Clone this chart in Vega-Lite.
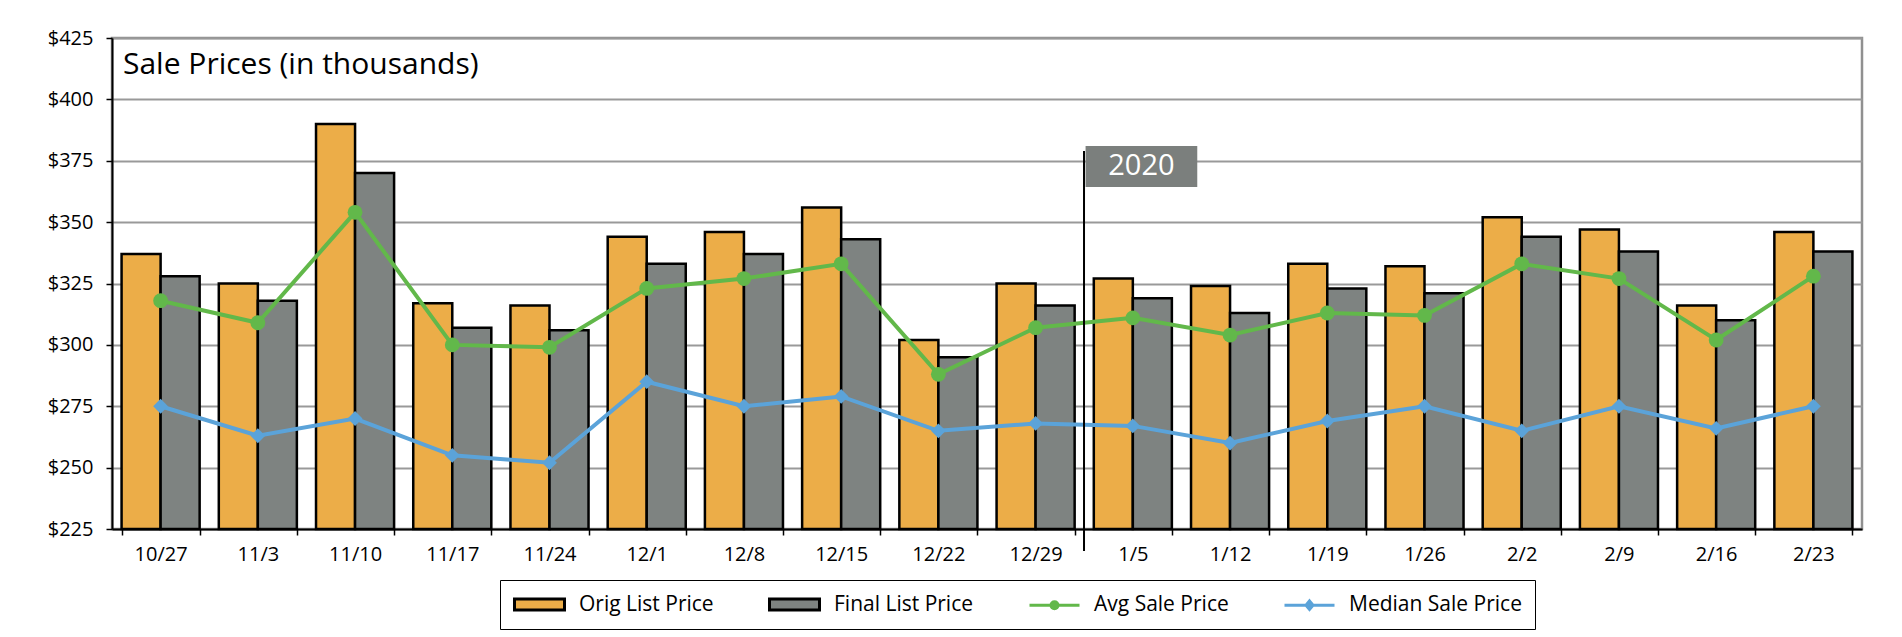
{
  "$schema": "https://vega.github.io/schema/vega-lite/v6.json",
  "width": 1750,
  "height": 491,
  "autosize": {"type": "none"},
  "padding": {"left": 112, "top": 38, "right": 40, "bottom": 108},
  "background": "white",
  "title": {
    "text": "Sale Prices (in thousands)",
    "anchor": "start",
    "frame": "group",
    "dx": 11,
    "dy": 15,
    "offset": -61,
    "baseline": "alphabetic",
    "fontSize": 30,
    "fontWeight": "normal",
    "color": "black",
    "font": "Open Sans"
  },
  "config": {
    "font": "Open Sans",
    "view": {"stroke": "#909090", "strokeWidth": 2.5},
    "legend": {
      "orient": "none",
      "legendX": 388,
      "legendY": 542,
      "direction": "horizontal",
      "strokeColor": "black",
      "fillColor": "white",
      "padding": 13,
      "labelFontSize": 21,
      "labelColor": "black",
      "labelFont": "Open Sans",
      "labelOffset": 28,
      "labelLimit": 400,
      "symbolOffset": 15,
      "columnPadding": 49,
      "symbolSize": 400,
      "symbolStrokeWidth": 3,
      "symbolOpacity": 1
    }
  },
  "data": {
    "values": [
      {"date": "10/27", "Orig List Price": 337, "Final List Price": 328, "Avg Sale Price": 318, "Median Sale Price": 275},
      {"date": "11/3", "Orig List Price": 325, "Final List Price": 318, "Avg Sale Price": 309, "Median Sale Price": 263},
      {"date": "11/10", "Orig List Price": 390, "Final List Price": 370, "Avg Sale Price": 354, "Median Sale Price": 270},
      {"date": "11/17", "Orig List Price": 317, "Final List Price": 307, "Avg Sale Price": 300, "Median Sale Price": 255},
      {"date": "11/24", "Orig List Price": 316, "Final List Price": 306, "Avg Sale Price": 299, "Median Sale Price": 252},
      {"date": "12/1", "Orig List Price": 344, "Final List Price": 333, "Avg Sale Price": 323, "Median Sale Price": 285},
      {"date": "12/8", "Orig List Price": 346, "Final List Price": 337, "Avg Sale Price": 327, "Median Sale Price": 275},
      {"date": "12/15", "Orig List Price": 356, "Final List Price": 343, "Avg Sale Price": 333, "Median Sale Price": 279},
      {"date": "12/22", "Orig List Price": 302, "Final List Price": 295, "Avg Sale Price": 288, "Median Sale Price": 265},
      {"date": "12/29", "Orig List Price": 325, "Final List Price": 316, "Avg Sale Price": 307, "Median Sale Price": 268},
      {"date": "1/5", "Orig List Price": 327, "Final List Price": 319, "Avg Sale Price": 311, "Median Sale Price": 267},
      {"date": "1/12", "Orig List Price": 324, "Final List Price": 313, "Avg Sale Price": 304, "Median Sale Price": 260},
      {"date": "1/19", "Orig List Price": 333, "Final List Price": 323, "Avg Sale Price": 313, "Median Sale Price": 269},
      {"date": "1/26", "Orig List Price": 332, "Final List Price": 321, "Avg Sale Price": 312, "Median Sale Price": 275},
      {"date": "2/2", "Orig List Price": 352, "Final List Price": 344, "Avg Sale Price": 333, "Median Sale Price": 265},
      {"date": "2/9", "Orig List Price": 347, "Final List Price": 338, "Avg Sale Price": 327, "Median Sale Price": 275},
      {"date": "2/16", "Orig List Price": 316, "Final List Price": 310, "Avg Sale Price": 302, "Median Sale Price": 266},
      {"date": "2/23", "Orig List Price": 346, "Final List Price": 338, "Avg Sale Price": 328, "Median Sale Price": 275}
    ]
  },
  "layer": [
    {
      "mark": {"type": "bar", "fill": "#ecad48", "stroke": "black", "strokeWidth": 2.5, "opacity": 1},
      "encoding": {
        "x": {
          "field": "date",
          "type": "nominal",
          "scale": {
            "domain": ["10/27", "11/3", "11/10", "11/17", "11/24", "12/1", "12/8", "12/15", "12/22", "12/29", "1/5", "1/12", "1/19", "1/26", "2/2", "2/9", "2/16", "2/23"],
            "paddingInner": 0.197,
            "paddingOuter": 0.0985
          },
          "axis": {
            "title": null,
            "labelAngle": 0,
            "tickBand": "extent",
            "tickSize": 6,
            "tickWidth": 1.5,
            "tickColor": "black",
            "domainColor": "black",
            "domainWidth": 2,
            "labelFontSize": 20,
            "labelColor": "black",
            "labelPadding": 9,
            "labelFont": "Open Sans",
            "grid": false
          }
        },
        "xOffset": {
          "datum": "Orig List Price",
          "type": "nominal",
          "scale": {"domain": ["Orig List Price", "Final List Price"], "paddingInner": 0, "paddingOuter": 0}
        },
        "y": {
          "field": "Orig List Price",
          "type": "quantitative",
          "scale": {"domain": [225, 425], "nice": false, "zero": false},
          "axis": {
            "values": [225, 250, 275, 300, 325, 350, 375, 400, 425],
            "labelExpr": "'$' + datum.value",
            "grid": true,
            "gridColor": "#999999",
            "gridWidth": 2,
            "domainColor": "black",
            "domainWidth": 2,
            "tickColor": "black",
            "tickSize": 6,
            "tickWidth": 1.5,
            "labelFontSize": 20,
            "labelColor": "black",
            "labelFont": "Open Sans",
            "labelPadding": 13,
            "title": null
          }
        },
        "y2": {"datum": 225}
      }
    },
    {
      "mark": {"type": "bar", "fill": "#7e8381", "stroke": "black", "strokeWidth": 2.5, "opacity": 1},
      "encoding": {
        "x": {"field": "date", "type": "nominal"},
        "xOffset": {"datum": "Final List Price", "type": "nominal"},
        "y": {"field": "Final List Price", "type": "quantitative"},
        "y2": {"datum": 225}
      }
    },
    {
      "mark": {"type": "line", "strokeWidth": 4, "color": "#62b84a"},
      "encoding": {
        "x": {"field": "date", "type": "nominal"},
        "y": {"field": "Avg Sale Price", "type": "quantitative"}
      }
    },
    {
      "mark": {"type": "point", "shape": "circle", "filled": true, "opacity": 1, "size": 220, "color": "#62b84a"},
      "encoding": {
        "x": {"field": "date", "type": "nominal"},
        "y": {"field": "Avg Sale Price", "type": "quantitative"}
      }
    },
    {
      "mark": {"type": "line", "strokeWidth": 4, "color": "#5ba3d9"},
      "encoding": {
        "x": {"field": "date", "type": "nominal"},
        "y": {"field": "Median Sale Price", "type": "quantitative"}
      }
    },
    {
      "mark": {"type": "point", "shape": "diamond", "filled": true, "opacity": 1, "size": 220, "color": "#5ba3d9"},
      "encoding": {
        "x": {"field": "date", "type": "nominal"},
        "y": {"field": "Median Sale Price", "type": "quantitative"}
      }
    },
    {
      "data": {"values": [{"series": "Orig List Price"}, {"series": "Final List Price"}, {"series": "Avg Sale Price"}, {"series": "Median Sale Price"}]},
      "mark": {"type": "point", "filled": true, "opacity": 0},
      "encoding": {
        "fill": {
          "field": "series",
          "type": "nominal",
          "scale": {
            "domain": ["Orig List Price", "Final List Price", "Avg Sale Price", "Median Sale Price"],
            "range": ["#ecad48", "#7e8381", "#62b84a", "#5ba3d9"]
          },
          "legend": {"title": null}
        },
        "stroke": {
          "field": "series",
          "type": "nominal",
          "scale": {
            "domain": ["Orig List Price", "Final List Price", "Avg Sale Price", "Median Sale Price"],
            "range": ["black", "black", "#62b84a", "#5ba3d9"]
          },
          "legend": {"title": null}
        },
        "shape": {
          "field": "series",
          "type": "nominal",
          "scale": {
            "domain": ["Orig List Price", "Final List Price", "Avg Sale Price", "Median Sale Price"],
            "range": [
              "M-2.5,-0.55L2.5,-0.55L2.5,0.55L-2.5,0.55Z",
              "M-2.5,-0.55L2.5,-0.55L2.5,0.55L-2.5,0.55Z",
              "M-2.5,0L2.5,0M0.35,0A0.35,0.35,0,1,1,-0.35,0A0.35,0.35,0,1,1,0.35,0Z",
              "M-2.5,0L2.5,0M0,-0.42L0.35,0L0,0.42L-0.35,0Z"
            ]
          },
          "legend": {"title": null}
        }
      }
    },
    {
      "data": {"values": [{"label": "2020"}]},
      "layer": [
        {
          "mark": {"type": "rule", "color": "black", "strokeWidth": 2},
          "encoding": {
            "x": {"datum": "12/29", "type": "nominal", "bandPosition": 1.12},
            "y": {"datum": 379, "type": "quantitative"},
            "y2": {"datum": 216}
          }
        },
        {
          "mark": {"type": "rect", "color": "#7b7f7d"},
          "encoding": {
            "x": {"datum": "12/29", "type": "nominal", "bandPosition": 1.14},
            "x2": {"datum": "1/12", "bandPosition": 0.08},
            "y": {"datum": 381, "type": "quantitative"},
            "y2": {"datum": 364.3}
          }
        },
        {
          "mark": {"type": "text", "color": "white", "fontSize": 29, "align": "center", "baseline": "middle", "font": "Open Sans"},
          "encoding": {
            "x": {"datum": "1/5", "type": "nominal", "bandPosition": 0.61},
            "y": {"datum": 372.7, "type": "quantitative"},
            "text": {"field": "label"}
          }
        }
      ]
    }
  ]
}
